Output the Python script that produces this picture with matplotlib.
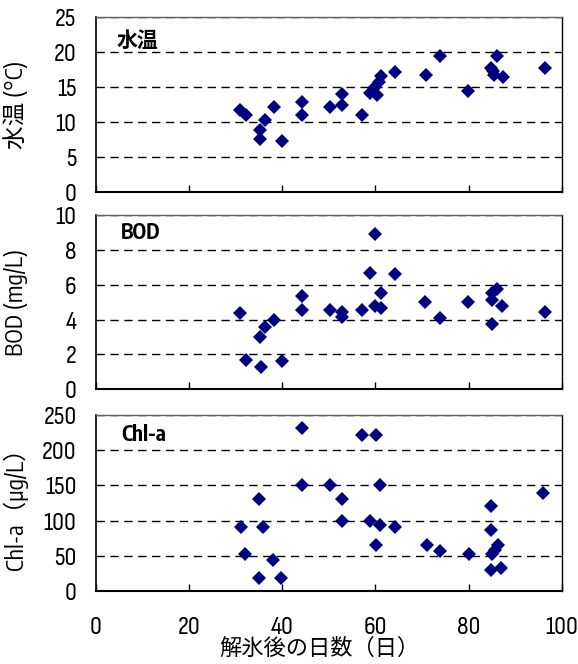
import matplotlib
matplotlib.use('Agg')
import matplotlib.pyplot as plt

# days after ice-out, one list per measured item
days_temp = [30.9, 32.3, 35.2, 35.3, 36.2, 38.3, 40.0, 44.3, 44.3, 50.3, 52.9, 52.9, 57.2, 58.8,
             59.7, 60.3, 60.8, 61.2, 64.1, 70.8, 73.9, 79.9, 84.9, 85.2, 85.4, 86.1, 87.4, 96.4]
temp = [11.7, 11.0, 7.6, 8.8, 10.3, 12.2, 7.3, 12.9, 11.0, 12.2, 14.0, 12.4, 11.0, 14.1,
        14.9, 13.8, 15.7, 16.6, 17.2, 16.8, 19.4, 14.5, 17.8, 17.3, 16.8, 19.5, 16.5, 17.7]

days_bod = [30.9, 32.2, 35.2, 35.4, 36.2, 38.3, 40.0, 44.2, 44.2, 50.2, 52.8, 52.8, 57.1, 58.9,
            59.9, 59.9, 61.1, 61.1, 64.1, 70.7, 73.9, 79.8, 85.0, 85.0, 85.0, 86.0, 87.2, 96.3]
bod = [4.4, 1.7, 3.0, 1.25, 3.55, 4.0, 1.6, 5.35, 4.55, 4.55, 4.45, 4.15, 4.55, 6.7,
       8.9, 4.75, 5.55, 4.65, 6.6, 5.0, 4.1, 5.0, 3.75, 5.1, 5.55, 5.75, 4.75, 4.45]

days_chla = [31.2, 32.1, 35.1, 35.1, 35.9, 38.1, 39.8, 44.3, 44.3, 50.2, 52.8, 52.8, 57.2, 58.8, 60.2,
             60.2, 61.0, 61.0, 64.2, 71.0, 73.9, 80.1, 84.9, 84.9, 84.9, 85.1, 85.6, 86.2, 87.0, 96.0]
chla = [91, 53, 130, 19, 91, 44, 19, 232, 150, 150, 130, 100, 221, 100, 221,
        65, 150, 94, 91, 65, 57, 53, 120, 86, 30, 53, 58, 66, 33, 139]

plt.rcParams['font.family'] = ['Sofia Sans Condensed', 'Noto Sans CJK JP', 'DejaVu Sans']
label_font = ['Encode Sans Condensed', 'Noto Sans CJK JP', 'DejaVu Sans']


def draw_panel(ax, x, y, ymax, step, name, ylabel, name_pos):
    ax.plot(x, y, 'D', color='#000080', ms=6.8, mew=0, zorder=3)
    ax.set_xlim(0, 100)
    ax.set_ylim(0, ymax)
    ax.set_xticks(range(0, 101, 20))
    ax.set_yticks(range(0, ymax + 1, step))
    ax.grid(axis='y', color='black', linestyle=(0, (6, 4)), lw=1)
    ax.tick_params(axis='y', length=0, pad=14, labelsize=19)
    ax.tick_params(axis='x', direction='in', length=5, width=1, pad=18, labelsize=19)
    ax.spines['top'].set_color('#606060')
    ax.spines['top'].set_linewidth(1)
    ax.spines['right'].set_linewidth(1)
    ax.spines['left'].set_linewidth(1.2)
    ax.spines['bottom'].set_linewidth(1.5)
    ax.text(name_pos[0], name_pos[1], name, transform=ax.transAxes, fontsize=15,
            fontweight='bold', family=label_font, va='center', ha='left')
    ax.set_ylabel(ylabel, fontsize=17, family=label_font)
    ax.yaxis.set_label_coords(-0.145, 0.5)


def main():
    fig = plt.figure(figsize=(5.78, 6.64), dpi=100)
    ax1 = fig.add_axes([0.166, 0.711, 0.806, 0.263])
    ax2 = fig.add_axes([0.166, 0.414, 0.806, 0.262])
    ax3 = fig.add_axes([0.166, 0.110, 0.806, 0.265])

    draw_panel(ax1, days_temp, temp, 25, 5, '水温', '水温 (°C)', (0.045, 0.863))
    draw_panel(ax2, days_bod, bod, 10, 2, 'BOD', 'BOD (mg/L)', (0.053, 0.897))
    draw_panel(ax3, days_chla, chla, 250, 50, 'Chl-a', 'Chl-a（μg/L）', (0.054, 0.886))

    ax1.tick_params(labelbottom=False)
    ax2.tick_params(labelbottom=False)
    ax3.set_xlabel('解氷後の日数（日）', fontsize=16)
    ax3.xaxis.set_label_coords(0.48, -0.265)

    fig.savefig('out.png', dpi=100)


if __name__ == "__main__":
    main()
